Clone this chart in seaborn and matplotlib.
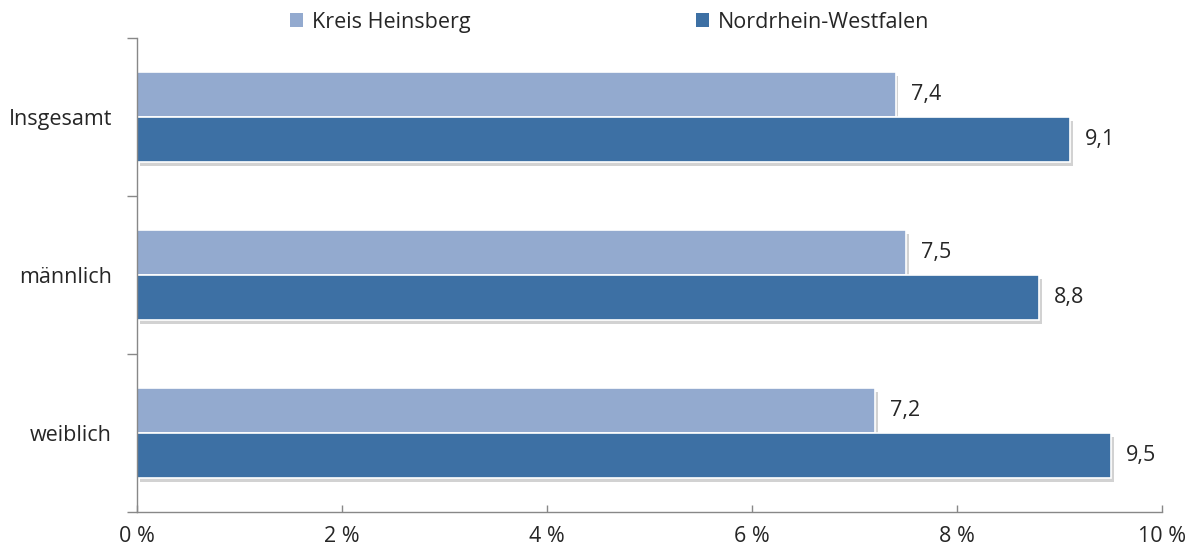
import numpy as np
import pandas as pd
import matplotlib
matplotlib.use("Agg")
import matplotlib.pyplot as plt
import matplotlib.patheffects as pe
import seaborn as sns

# Data
categories = ["Insgesamt", "männlich", "weiblich"]
kreis_heinsberg = [7.4, 7.5, 7.2]
nrw = [9.1, 8.8, 9.5]
series_names = ["Kreis Heinsberg", "Nordrhein-Westfalen"]
x_ticks = [0, 2, 4, 6, 8, 10]

df = pd.DataFrame({
    "Kategorie": categories * 2,
    "Wert": kreis_heinsberg + nrw,
    "Gebiet": [series_names[0]] * 3 + [series_names[1]] * 3,
})

sns.set_style("white")
plt.rcParams["font.family"] = ["Open Sans", "DejaVu Sans"]

fig = plt.figure(figsize=(11.98, 5.57), dpi=100)
ax = fig.add_axes([0.1144, 0.0808, 0.8556, 0.851])

palette = ["#93AACF", "#3D70A4"]
sns.barplot(data=df, x="Wert", y="Kategorie", hue="Gebiet", order=categories,
            hue_order=series_names, palette=palette, width=0.57, orient="h",
            edgecolor="white", linewidth=1.2, saturation=1, ax=ax)

shadow = [pe.SimplePatchShadow(offset=(2, -3), shadow_rgbFace="#7f7f7f", alpha=0.35), pe.Normal()]
for p in ax.patches:
    p.set_path_effects(shadow)

fs = 15.5
for cont in ax.containers:
    ax.bar_label(cont, labels=[f"{v:.1f}".replace(".", ",") for v in cont.datavalues],
                 padding=11, fontsize=fs, color="#262626")

ax.set_xlim(0, 10)
ax.set_ylim(2.5, -0.5)
ax.set_xticks(x_ticks)
ax.set_xticklabels([f"{t} %" for t in x_ticks], fontsize=fs, color="#262626")
ax.set_yticks(range(len(categories)))
ax.set_yticklabels(categories, fontsize=fs, color="#262626")
ax.set_yticks([-0.5, 0.5, 1.5, 2.5], minor=True)
ax.tick_params(axis="y", which="major", left=True, length=0, pad=18)
ax.tick_params(axis="y", which="minor", left=True, length=7, direction="out", color="#888888", width=1)
ax.tick_params(axis="x", which="major", bottom=True, length=5, direction="in", color="#888888", width=1, pad=10)
ax.set_xlabel("")
ax.set_ylabel("")

for side in ["top", "right"]:
    ax.spines[side].set_visible(False)
for side in ["left", "bottom"]:
    ax.spines[side].set_color("#888888")
    ax.spines[side].set_linewidth(1)

ax.legend(loc="lower center", bbox_to_anchor=(0.461, 1.0), ncol=2, frameon=False,
          fontsize=fs, handlelength=0.6, handleheight=0.6, columnspacing=10.5,
          handletextpad=0.4, labelcolor="#262626", borderaxespad=0, borderpad=0.25)
for h in ax.get_legend().legend_handles:
    h.set_path_effects([])
    h.set_edgecolor("none")

plt.savefig("out.png", dpi=100)
